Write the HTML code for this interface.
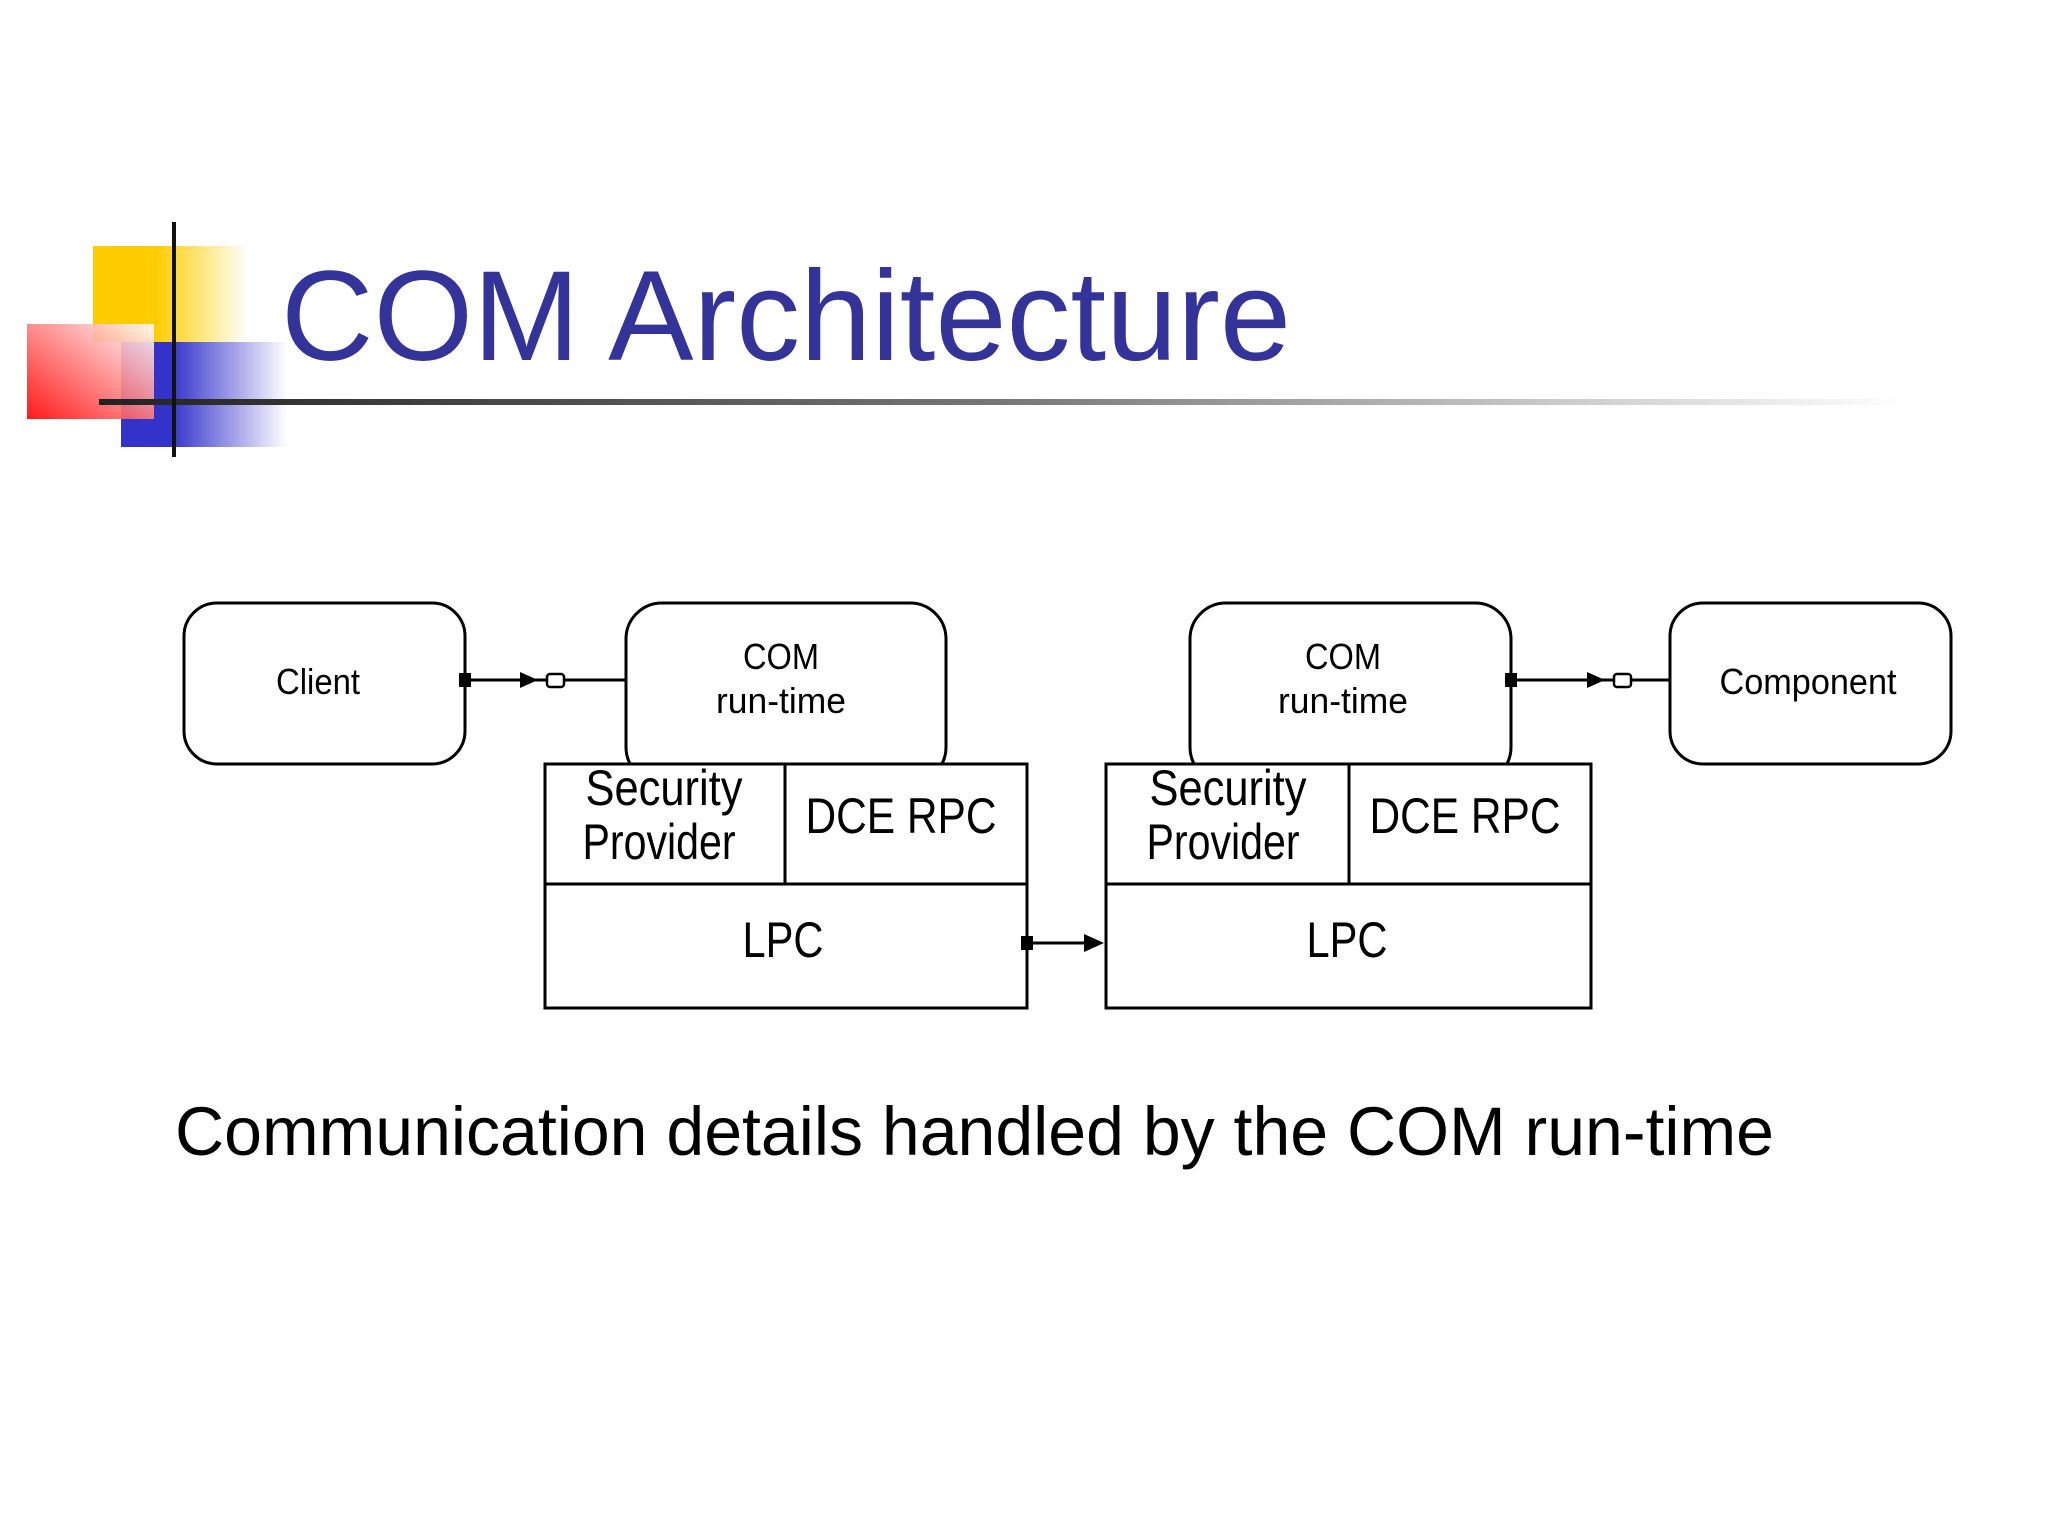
<!DOCTYPE html>
<html><head><meta charset="utf-8"><style>html,body{margin:0;padding:0;background:#fff}svg{display:block}</style></head>
<body>
<svg width="2048" height="1536" viewBox="0 0 2048 1536" xmlns="http://www.w3.org/2000/svg" font-family="Liberation Sans, sans-serif">
<defs>
<linearGradient id="gy" x1="0" x2="1" y1="0" y2="0"><stop offset="0" stop-color="#ffcc00"/><stop offset="0.4" stop-color="#ffcc00"/><stop offset="1" stop-color="#fff"/></linearGradient>
<linearGradient id="gb" x1="0" x2="1" y1="0" y2="0"><stop offset="0" stop-color="#3333cc"/><stop offset="0.3" stop-color="#3333cc"/><stop offset="1" stop-color="#fff"/></linearGradient>
<linearGradient id="gr" x1="0" x2="1" y1="1" y2="0"><stop offset="0" stop-color="#ff0000"/><stop offset="1" stop-color="#fff"/></linearGradient>
<linearGradient id="gl" x1="0" x2="1" y1="0" y2="0"><stop offset="0" stop-color="#222"/><stop offset="0.5" stop-color="#777"/><stop offset="1" stop-color="#fff"/></linearGradient>
</defs>
<rect x="93" y="246" width="155" height="96" fill="url(#gy)"/>
<rect x="121" y="342" width="166" height="105" fill="url(#gb)"/>
<rect x="27" y="324" width="127" height="95" fill="url(#gr)" opacity="0.9"/>
<rect x="99" y="399" width="1808" height="6" fill="url(#gl)"/>
<rect x="172" y="222" width="4" height="235" fill="#111"/>
<text x="281" y="360" font-size="128" fill="#333399">COM Architecture</text>

<g stroke="#000" stroke-width="3" fill="none">
<rect x="184" y="603" width="281" height="161" rx="33"/>
<rect x="626" y="603" width="320" height="180" rx="36"/>
<rect x="1190" y="603" width="321" height="180" rx="36"/>
<rect x="1670" y="603" width="281" height="161" rx="33"/>
</g>
<g stroke="#000" stroke-width="3" fill="#fff">
<rect x="545" y="764" width="482" height="244"/>
<rect x="1106" y="764" width="485" height="244"/>
</g>
<g stroke="#000" stroke-width="3">
<line x1="545" y1="884" x2="1027" y2="884"/><line x1="785" y1="764" x2="785" y2="884"/>
<line x1="1106" y1="884" x2="1591" y2="884"/><line x1="1349" y1="764" x2="1349" y2="884"/>
<line x1="465" y1="680" x2="548" y2="680"/><line x1="564" y1="680" x2="626" y2="680"/>
<line x1="1511" y1="680" x2="1613" y2="680"/><line x1="1631" y1="680" x2="1670" y2="680"/>
<line x1="1027" y1="943" x2="1100" y2="943"/>
</g>
<g fill="#000">
<rect x="459" y="673" width="12" height="14"/>
<polygon points="520,672 538,680 520,688"/>
<rect x="1505" y="673" width="12" height="14"/>
<polygon points="1587,672 1605,680 1587,688"/>
<rect x="1021" y="936" width="12" height="14"/>
<polygon points="1084,934 1104,943 1084,952"/>
</g>
<g fill="#fff" stroke="#000" stroke-width="2.5">
<rect x="547" y="674" width="17" height="13" rx="3"/>
<rect x="1614" y="674" width="17" height="13" rx="3"/>
</g>
<g fill="#000" text-anchor="middle">
<text x="318" y="694" font-size="36" textLength="84" lengthAdjust="spacingAndGlyphs">Client</text>
<text x="781" y="669" font-size="36" textLength="76" lengthAdjust="spacingAndGlyphs">COM</text>
<text x="781" y="713" font-size="36" textLength="130" lengthAdjust="spacingAndGlyphs">run-time</text>
<text x="1343" y="669" font-size="36" textLength="76" lengthAdjust="spacingAndGlyphs">COM</text>
<text x="1343" y="713" font-size="36" textLength="130" lengthAdjust="spacingAndGlyphs">run-time</text>
<text x="1808" y="694" font-size="36" textLength="177" lengthAdjust="spacingAndGlyphs">Component</text>
<text x="664" y="805" font-size="50" textLength="157" lengthAdjust="spacingAndGlyphs">Security</text>
<text x="659" y="859" font-size="50" textLength="153" lengthAdjust="spacingAndGlyphs">Provider</text>
<text x="901" y="833" font-size="50" textLength="191" lengthAdjust="spacingAndGlyphs">DCE RPC</text>
<text x="783" y="957" font-size="50" textLength="81" lengthAdjust="spacingAndGlyphs">LPC</text>
<text x="1228" y="805" font-size="50" textLength="157" lengthAdjust="spacingAndGlyphs">Security</text>
<text x="1223" y="859" font-size="50" textLength="153" lengthAdjust="spacingAndGlyphs">Provider</text>
<text x="1465" y="833" font-size="50" textLength="191" lengthAdjust="spacingAndGlyphs">DCE RPC</text>
<text x="1347" y="957" font-size="50" textLength="81" lengthAdjust="spacingAndGlyphs">LPC</text>
</g>
<text x="175" y="1155" font-size="69" fill="#000" textLength="1599" lengthAdjust="spacingAndGlyphs">Communication details handled by the COM run-time</text>
</svg>
</body></html>
